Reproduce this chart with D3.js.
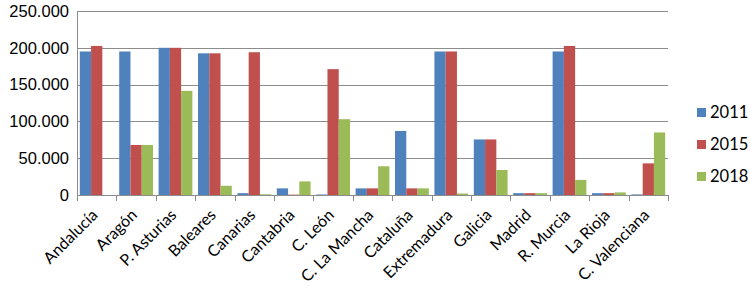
<!DOCTYPE html>
<html lang="es">
<head>
<meta charset="UTF-8">
<title>Comunidades</title>
<style>
  body { margin: 0; background: #fff; }
  svg { display: block; font-family: Lato, "Open Sans", sans-serif; }
  .grid line { stroke: #8c8c8c; stroke-width: 1; }
  .axis path, .axis line { stroke: #8c8c8c; shape-rendering: crispEdges; }
  .axis text { fill: #000; font-size: 16.5px; }
  .axis .xl { font-size: 16px; }
</style>
</head>
<body>
<div id="chart"></div>
<script src="https://d3js.org/d3.v7.min.js"></script>
<script>
// categories and values
const regions = ["Andalucía", "Aragón", "P. Asturias", "Baleares", "Canarias", "Cantabria",
  "C. León", "C. La Mancha", "Cataluña", "Extremadura", "Galicia", "Madrid",
  "R. Murcia", "La Rioja", "C. Valenciana"];
const years = ["2011", "2015", "2018"];
const v2011 = [195000, 195000, 200000, 192500, 2500, 9000, 700, 9000, 87000, 195000, 75500, 2500, 195000, 2500, 800];
const v2015 = [202500, 68000, 200000, 192500, 194000, 500, 171000, 9000, 9000, 195000, 75500, 2500, 202500, 2500, 43000];
const v2018 = [0, 68000, 141500, 12500, 1000, 18500, 103000, 39000, 9000, 2000, 34000, 2500, 20500, 3500, 85000];
const yTicks = [0, 50000, 100000, 150000, 200000, 250000];

const series = [v2011, v2015, v2018];
const colors = ["#4f81bd", "#c0504d", "#9bbb59"];

const W = 750, H = 289;
const m = {top: 11, right: 82, bottom: 94, left: 77};
const w = W - m.left - m.right, h = H - m.top - m.bottom;

const svg = d3.select("#chart").append("svg")
    .attr("width", W).attr("height", H);
const g = svg.append("g").attr("transform", `translate(${m.left},${m.top})`);

const x = d3.scaleBand().domain(regions).range([0, w]).paddingInner(0).paddingOuter(0);
const xs = d3.scaleBand().domain(years).range([0, x.bandwidth()]).paddingInner(0).paddingOuter(0.25);
const y = d3.scaleLinear().domain([0, 250000]).range([h, 0]);

const fmt = d => d3.format(",")(d).replace(/,/g, ".");

// horizontal gridlines
g.append("g").attr("class", "grid")
  .selectAll("line").data(yTicks.filter(d => d > 0)).enter().append("line")
    .attr("x1", 0).attr("x2", w)
    .attr("y1", d => Math.round(y(d)) + 0.5).attr("y2", d => Math.round(y(d)) + 0.5);

// y axis
const ya = g.append("g").attr("class", "axis")
  .call(d3.axisLeft(y).tickValues(yTicks).tickFormat(fmt).tickSize(0).tickPadding(8));
ya.select(".domain").attr("d", `M0.5,${h}V0`);

// bars
series.forEach((vals, i) => {
  g.append("g").selectAll("rect").data(regions).enter().append("rect")
    .attr("x", d => x(d) + xs(years[i]))
    .attr("y", (d, j) => y(vals[j]))
    .attr("width", xs.bandwidth())
    .attr("height", (d, j) => h - y(vals[j]))
    .attr("fill", colors[i]);
});

// x axis with ticks between categories
const xa = g.append("g").attr("class", "axis").attr("transform", `translate(0,${h})`);
xa.append("line").attr("x1", 0).attr("x2", w).attr("y1", 0.5).attr("y2", 0.5);
xa.selectAll(".tk").data(d3.range(regions.length + 1)).enter().append("line")
  .attr("class", "tk")
  .attr("x1", i => Math.round(i * x.bandwidth()) + 0.5)
  .attr("x2", i => Math.round(i * x.bandwidth()) + 0.5)
  .attr("y1", 0).attr("y2", 6);
xa.selectAll("text").data(regions).enter().append("text")
  .attr("class", "xl")
  .attr("text-anchor", "end")
  .attr("transform", d => `translate(${x(d) + x.bandwidth() / 2 + 2},${21}) rotate(-45)`)
  .text(d => d);

// legend
const lg = svg.append("g").attr("transform", "translate(697,108)");
years.forEach((yr, i) => {
  const r = lg.append("g").attr("transform", `translate(0,${i * 32})`);
  r.append("rect").attr("width", 9).attr("height", 9).attr("fill", colors[i]);
  r.append("text").attr("x", 13).attr("y", 10).attr("font-size", 16.5).text(yr);
});
</script>
</body>
</html>
